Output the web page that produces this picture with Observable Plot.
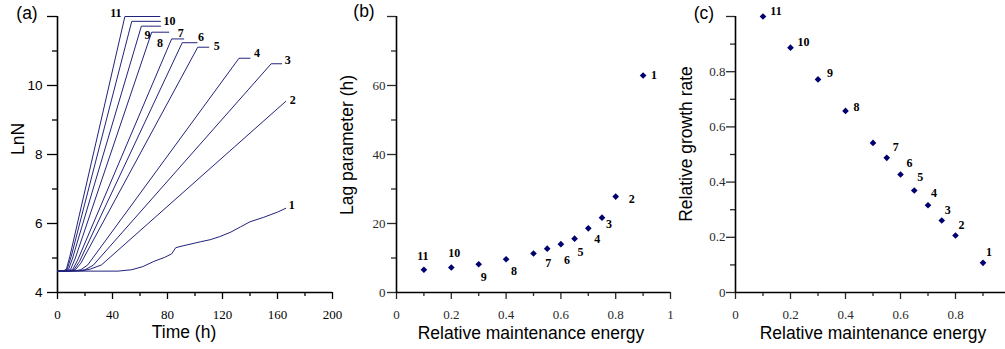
<!DOCTYPE html>
<html><head><meta charset="utf-8">
<script src="https://cdn.jsdelivr.net/npm/d3@7"></script>
<script src="https://cdn.jsdelivr.net/npm/@observablehq/plot@0.6"></script>
<style>
html,body{margin:0;padding:0;background:#fff;overflow:hidden;}
#root{position:relative;width:1005px;height:349px;overflow:hidden;background:#fff;}
.panel{position:absolute;top:0;}
.t{position:absolute;font-family:"Liberation Sans",Arial,sans-serif;font-size:17.5px;line-height:1;white-space:nowrap;color:#000;transform:translate(-50%,-50%);}
.t.r{transform:translate(-50%,-50%) rotate(-90deg);}
</style></head><body><div id="root"></div>
<script>
// ---------- Panel (a): LnN growth curves ----------
const curveNames = ["1","2","3","4","5","6","7","8","9","10","11"];
const curveTimes = [
  [0,44,54,62,70,78,83,86,92,104,111,118,126,133,140,150,160,166],
  [0,18,24,32,166],
  [0,15,20,26,155.4,163],
  [0,13,17,22,132,140],
  [0,10,13,17,102,110],
  [0,9,12,16,90.7,101.5],
  [0,8,11,15,83,91.8],
  [0,7,9.5,13,68.5,81],
  [0,6,8,11,61,74.9],
  [0,5,7,10,54,74.9],
  [0,4.5,6.5,9,49,74.4]
];
const curveLnN = [
  [4.62,4.62,4.66,4.75,4.9,5.02,5.12,5.3,5.36,5.47,5.53,5.62,5.75,5.9,6.05,6.18,6.33,6.44],
  [4.62,4.63,4.68,4.8,9.54],
  [4.62,4.63,4.66,4.79,10.63,10.63],
  [4.62,4.63,4.66,4.8,10.79,10.79],
  [4.62,4.63,4.66,4.85,11.11,11.11],
  [4.62,4.63,4.66,4.9,11.24,11.24],
  [4.62,4.63,4.66,4.97,11.35,11.35],
  [4.62,4.63,4.67,5.0,11.545,11.545],
  [4.62,4.63,4.67,5.0,11.72,11.72],
  [4.62,4.63,4.67,5.05,11.86,11.86],
  [4.62,4.63,4.68,5.05,12.0,12.0]
];
const timeTicks = [0,40,80,120,160,200];
const lnNTicks = [4,6,8,10,12];

// ---------- Panels (b) and (c) ----------
const energy = [0.1,0.2,0.3,0.4,0.5,0.55,0.6,0.65,0.7,0.75,0.8,0.9];
const lagParam = [6.6,7.25,8.2,9.65,11.3,12.7,14.0,15.6,18.6,21.7,27.8,62.9];
const growthRate = [1.0,0.887,0.772,0.658,0.542,0.488,0.4275,0.3696,0.316,0.261,0.2065,0.1076];
const pointLabels = ["11","10","9","8","","7","6","5","4","3","2","1"];
const energyTicks = [0,0.2,0.4,0.6,0.8,1];
const lagTicks = [0,20,40,60,80];
const rateTicks = [0,0.2,0.4,0.6,0.8,1];

const ink = "#22227c";
const dotInk = "#00006e";
const serif = "Liberation Serif";
const sans = "Liberation Sans";
const baseStyle = {background:"none", overflow:"visible", maxWidth:"none", fontFamily:serif, fontSize:"13px", color:"#000"};
const root = document.getElementById("root");

function place(el, left){ el.classList.add("panel"); el.style.left = left + "px"; root.appendChild(el); }
function title(txt, cx, cy, rot){ const d = document.createElement("div"); d.className = "t" + (rot ? " r" : ""); d.textContent = txt; d.style.left = cx + "px"; d.style.top = cy + "px"; root.appendChild(d); }
function minorBetween(ticks){ const m = []; for (let i = 0; i < ticks.length - 1; i++) m.push(+((ticks[i] + ticks[i+1]) / 2).toFixed(4)); return m; }
const blank = () => "";

// Panel (a)
const rowsA = [];
curveNames.forEach((c,i) => curveTimes[i].forEach((t,j) => rowsA.push({curve:c, t, lnN:curveLnN[i][j]})));
const endsA = curveNames.map((c,i) => ({curve:c, t:curveTimes[i][curveTimes[i].length-1], lnN:curveLnN[i][curveLnN[i].length-1]}));
const offA = {"1":[6,-3],"2":[7,-1],"3":[6,-4],"4":[7,-5],"5":[8,-1],"6":[4,-6],"7":[-3,-6],"8":[-9,11],"9":[-13,9],"10":[9,0],"11":[-44,-3]};

const plotA = Plot.plot({
  width:335, height:349, marginLeft:57, marginRight:3, marginTop:16, marginBottom:57,
  x:{domain:[0,200]}, y:{domain:[4,12]},
  style: baseStyle,
  marks: [
    Plot.axisY({ticks:lnNTicks, tickFormat:d => d === 12 ? "" : String(d), tickSize:10, tickPadding:5, fontFamily:sans, fontSize:13.5, label:null, strokeWidth:1.3}),
    Plot.axisY({ticks:minorBetween(lnNTicks), tickSize:5, tickFormat:blank, label:null, strokeWidth:1.3}),
    Plot.axisX({ticks:timeTicks, tickSize:7, tickPadding:10, label:null, strokeWidth:1.3}),
    Plot.axisX({ticks:minorBetween(timeTicks), tickSize:4, tickFormat:blank, label:null, strokeWidth:1.3}),
    Plot.ruleX([0], {stroke:"#000", strokeWidth:1.6}),
    Plot.ruleY([4], {stroke:"#000", strokeWidth:1.6}),
    Plot.line(rowsA, {x:"t", y:"lnN", z:"curve", stroke:ink, strokeWidth:1}),
    ...endsA.map(d => Plot.text([d], {x:"t", y:"lnN", text:"curve", dx:offA[d.curve][0], dy:offA[d.curve][1], fontWeight:"bold", fontSize:12, fontFamily:serif, fill:"#000"}))
  ]
});
place(plotA, 0);

// Panel (b)
const rowsBC = energy.map((e,i) => ({e, lag:lagParam[i], rate:growthRate[i], label:pointLabels[i]}));
const offB = {"11":[-1,-14],"10":[3,-14],"9":[5,13],"8":[8,12],"7":[1,14],"6":[6,16],"5":[6,13],"4":[9,11],"3":[7,7],"2":[16,3],"1":[11,0]};
const offC = {"11":[13,-5],"10":[13,-6],"9":[12,-6],"8":[11,-4],"7":[9,-11],"6":[9,-11],"5":[6,-13],"4":[6,-12],"3":[6,-10],"2":[6,-10],"1":[6,-11]};
const labeled = rowsBC.filter(d => d.label !== "");

const plotB = Plot.plot({
  width:335, height:349, marginLeft:61, marginRight:0, marginTop:16, marginBottom:57,
  x:{domain:[0,1]}, y:{domain:[0,80]},
  style: {...baseStyle, color:"#2a2a2a"},
  marks: [
    Plot.axisY({ticks:lagTicks, tickFormat:d => d === 80 ? "" : String(d), tickSize:9, tickPadding:2, label:null, strokeWidth:1.3}),
    Plot.axisY({ticks:minorBetween(lagTicks), tickSize:5, tickFormat:blank, label:null, strokeWidth:1.3}),
    Plot.axisX({ticks:energyTicks, tickFormat:d => String(d), tickSize:7, tickPadding:10, label:null, strokeWidth:1.3}),
    Plot.axisX({ticks:minorBetween(energyTicks), tickSize:4, tickFormat:blank, label:null, strokeWidth:1.3}),
    Plot.ruleX([0], {stroke:"#000", strokeWidth:1.6}),
    Plot.ruleY([0], {stroke:"#000", strokeWidth:1.6}),
    Plot.dot(rowsBC, {x:"e", y:"lag", symbol:"diamond2", r:3, fill:dotInk, stroke:"none"}),
    ...labeled.map(d => Plot.text([d], {x:"e", y:"lag", text:"label", dx:offB[d.label][0], dy:offB[d.label][1], fontWeight:"bold", fontSize:12, fontFamily:serif, fill:"#000"}))
  ]
});
place(plotB, 335);

// Panel (c)
const plotC = Plot.plot({
  width:340, height:349, marginLeft:65, marginRight:0, marginTop:16, marginBottom:57,
  x:{domain:[0,1]}, y:{domain:[0,1]},
  style: {...baseStyle, color:"#2a2a2a"},
  marks: [
    Plot.axisY({ticks:rateTicks, tickFormat:d => d === 1 ? "" : String(d), tickSize:9, tickPadding:1, label:null, strokeWidth:1.3}),
    Plot.axisY({ticks:minorBetween(rateTicks), tickSize:5, tickFormat:blank, label:null, strokeWidth:1.3}),
    Plot.axisX({ticks:energyTicks, tickFormat:d => d === 1 ? "" : String(d), tickSize:7, tickPadding:10, label:null, strokeWidth:1.3}),
    Plot.axisX({ticks:minorBetween(energyTicks), tickSize:4, tickFormat:blank, label:null, strokeWidth:1.3}),
    Plot.ruleX([0], {stroke:"#000", strokeWidth:1.6}),
    Plot.ruleY([0], {stroke:"#000", strokeWidth:1.6}),
    Plot.dot(rowsBC, {x:"e", y:"rate", symbol:"diamond2", r:3, fill:dotInk, stroke:"none"}),
    ...labeled.map(d => Plot.text([d], {x:"e", y:"rate", text:"label", dx:offC[d.label][0], dy:offC[d.label][1], fontWeight:"bold", fontSize:12, fontFamily:serif, fill:"#000"}))
  ]
});
place(plotC, 670);

// Titles
title("(a)", 27, 14, false);
title("(b)", 364, 12, false);
title("(c)", 704, 14, false);
title("LnN", 18.5, 139, true);
title("Lag parameter (h)", 348, 145, true);
title("Relative growth rate", 687, 143.5, true);
title("Time (h)", 184, 333, false);
title("Relative maintenance energy", 531, 334, false);
title("Relative maintenance energy", 873, 334, false);
</script></body></html>
